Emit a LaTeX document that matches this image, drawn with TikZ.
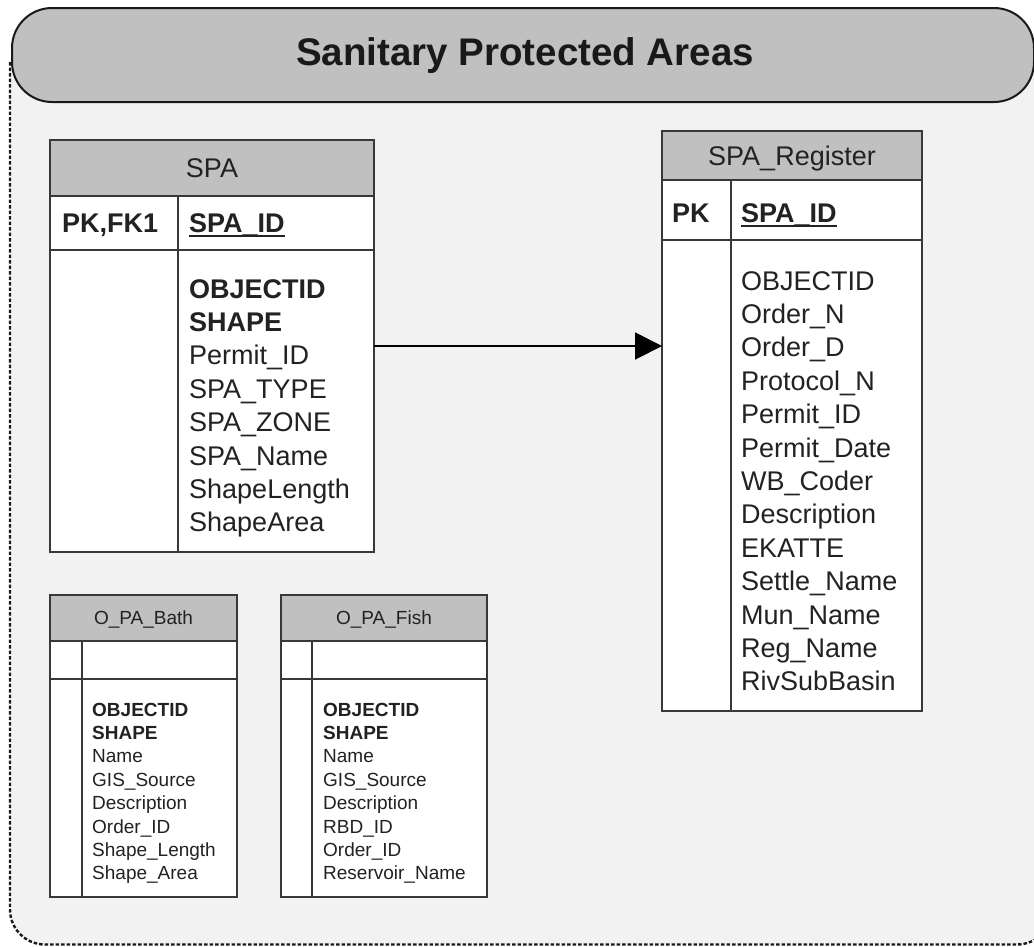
\documentclass[tikz,border=0pt]{standalone}
\usepackage{fontspec}
\setmainfont{Liberation Sans}
\usetikzlibrary{arrows.meta}
\definecolor{framefill}{HTML}{F2F2F2}
\definecolor{hdrgray}{HTML}{C0C0C0}
\definecolor{rulec}{HTML}{383838}
\definecolor{inkc}{HTML}{222222}
\newcommand\fsz[1]{\fontsize{#1}{#1}\selectfont}

\begin{document}
\begin{tikzpicture}[x=1pt,y=-1pt,
  cell/.style={draw=rulec, line width=1.8pt, rectangle, inner sep=0pt, outer sep=0pt,
               anchor=north west, fill=white},
  hcell/.style={cell, fill=hdrgray, text=inkc, text depth=0pt},
  big/.style={font=\fsz{27}, text=inkc, inner sep=0pt, anchor=base west},
  bigb/.style={big, font=\bfseries\fsz{27}},
  small/.style={font=\fsz{19}, text=inkc, inner sep=0pt, anchor=base west},
  smallb/.style={small, font=\bfseries\fsz{19}},
  rule/.style={draw=rulec, line width=1.8pt},
  keyline/.style={draw=inkc, line width=2.4pt},
]
\useasboundingbox (0,0) rectangle (1034,946);
\clip (0,0) rectangle (1034,946);
\fill[white] (0,0) rectangle (1034,946);

% dashed container
\path[fill=framefill, draw=black!90, line width=2.4pt, dash pattern=on 3.5pt off 2pt,
      rounded corners=35pt] (10,62) -- (10,944.5) -- (1052,944.5) -- (1052,62);

% banner
\node[draw=black!90, line width=2pt, fill=hdrgray, rounded corners=40pt,
      minimum width=1022pt, minimum height=94pt, anchor=north west, inner sep=0pt]
      (banner) at (11,7) {};
\node[font=\bfseries\fsz{38.5}, text=black!90, anchor=base, inner sep=0pt]
      (title) at (525,65) {Sanitary Protected Areas};

% ---------- SPA ----------
\node[hcell, minimum width=324pt, minimum height=56pt, font=\fsz{27}] (spaH) at (50,140) {SPA};
\node[cell, minimum width=324pt, minimum height=54pt] (spaK) at (50,196) {};
\node[cell, minimum width=324pt, minimum height=302pt] (spaB) at (50,250) {};
\draw[rule] ([xshift=128pt]spaK.north west) -- ([xshift=128pt]spaB.south west);
\node[bigb] (spaPK) at (62,232) {PK,FK1};
\node[bigb] (spaID) at (189,232) {SPA\_ID};
\draw[keyline] ([yshift=-4pt]spaID.base west) -- ([yshift=-4pt]spaID.base east);
\node[bigb] (spaF0) at (189,298) {OBJECTID};
\node[bigb] (spaF1) at (189,331.4) {SHAPE};
\foreach \t [count=\i from 2] in {Permit\_ID, SPA\_TYPE, SPA\_ZONE, SPA\_Name, ShapeLength, ShapeArea}
  \node[big] (spaF\i) at (189,298+33.4*\i) {\t};

% ---------- SPA_Register ----------
\node[hcell, minimum width=260pt, minimum height=49pt, font=\fsz{27}] (regH) at (662,131) {SPA\_Register};
\node[cell, minimum width=260pt, minimum height=60pt] (regK) at (662,180) {};
\node[cell, minimum width=260pt, minimum height=471pt] (regB) at (662,240) {};
\draw[rule] ([xshift=69pt]regK.north west) -- ([xshift=69pt]regB.south west);
\node[bigb] (regPK) at (672,222) {PK};
\node[bigb] (regID) at (741,222) {SPA\_ID};
\draw[keyline] ([yshift=-4pt]regID.base west) -- ([yshift=-4pt]regID.base east);
\foreach \t [count=\i from 0] in {OBJECTID, Order\_N, Order\_D, Protocol\_N, Permit\_ID,
    Permit\_Date, WB\_Coder, Description, EKATTE, Settle\_Name, Mun\_Name, Reg\_Name, RivSubBasin}
  \node[big] (regF\i) at (741,290+33.4*\i) {\t};

% relationship
\coordinate (relY) at (0,346);
\draw[line width=2pt, draw=black, -{Triangle[length=27pt,width=27pt]}]
  (spaB.east |- relY) -- (regB.west |- relY);

% ---------- O_PA_Bath ----------
\node[hcell, minimum width=187pt, minimum height=46pt, font=\fsz{19}] (bathH) at (50,595) {O\_PA\_Bath};
\node[cell, minimum width=187pt, minimum height=38pt] (bathK) at (50,641) {};
\node[cell, minimum width=187pt, minimum height=218pt] (bathB) at (50,679) {};
\draw[rule] ([xshift=32pt]bathK.north west) -- ([xshift=32pt]bathB.south west);
\node[smallb] (bathF0) at (92,716) {OBJECTID};
\node[smallb] (bathF1) at (92,739.4) {SHAPE};
\foreach \t [count=\i from 2] in {Name, GIS\_Source, Description, Order\_ID, Shape\_Length, Shape\_Area}
  \node[small] (bathF\i) at (92,716+23.4*\i) {\t};

% ---------- O_PA_Fish ----------
\node[hcell, minimum width=206pt, minimum height=46pt, font=\fsz{19}] (fishH) at (281,595) {O\_PA\_Fish};
\node[cell, minimum width=206pt, minimum height=38pt] (fishK) at (281,641) {};
\node[cell, minimum width=206pt, minimum height=218pt] (fishB) at (281,679) {};
\draw[rule] ([xshift=31pt]fishK.north west) -- ([xshift=31pt]fishB.south west);
\node[smallb] (fishF0) at (323,716) {OBJECTID};
\node[smallb] (fishF1) at (323,739.4) {SHAPE};
\foreach \t [count=\i from 2] in {Name, GIS\_Source, Description, RBD\_ID, Order\_ID, Reservoir\_Name}
  \node[small] (fishF\i) at (323,716+23.4*\i) {\t};
\end{tikzpicture}
\end{document}
